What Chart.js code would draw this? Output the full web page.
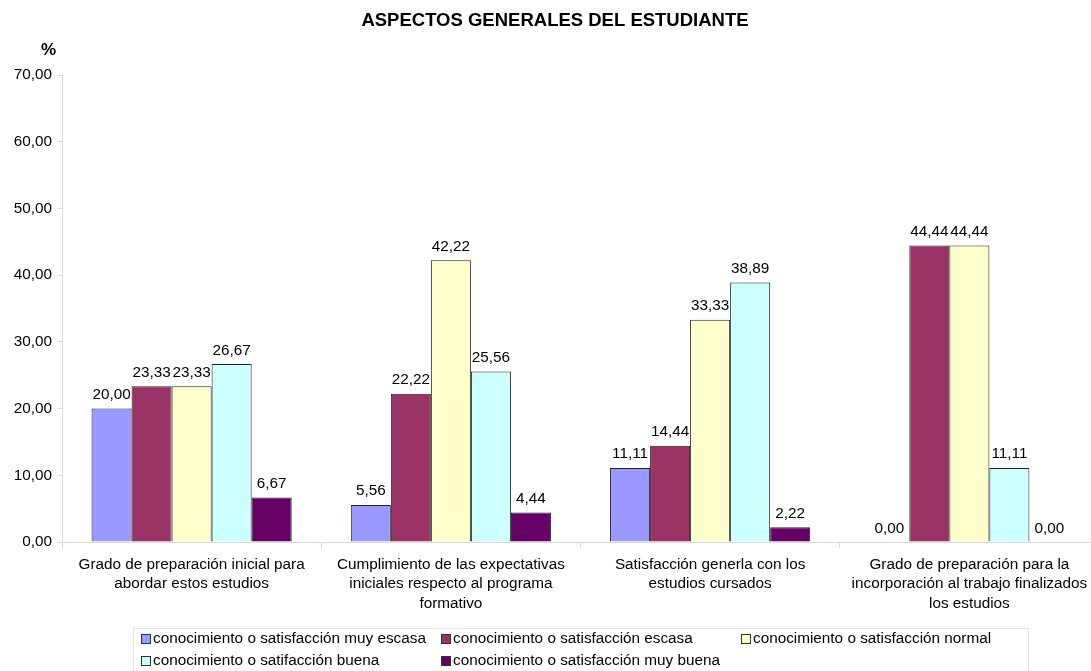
<!DOCTYPE html>
<html>
<head>
<meta charset="utf-8">
<script src="https://cdn.jsdelivr.net/npm/chart.js@4"></script>
<style>
html,body{margin:0;padding:0;background:#fff;overflow:hidden;width:1091px;height:671px;}
canvas{display:block;}
</style>
</head>
<body>
<canvas id="c" width="1099" height="671"></canvas>
<script>
const chartTitle = "ASPECTOS GENERALES DEL ESTUDIANTE";
const yUnit = "%";
const categories = [
  ["Grado de preparación inicial para", "abordar estos estudios"],
  ["Cumplimiento de las expectativas", "iniciales respecto al programa", "formativo"],
  ["Satisfacción generla con los", "estudios cursados"],
  ["Grado de preparación para la", "incorporación al trabajo finalizados", "los estudios"]
];
const seriesNames = [
  "conocimiento o satisfacción muy escasa",
  "conocimiento o satisfacción escasa",
  "conocimiento o satisfacción normal",
  "conocimiento o satifacción buena",
  "conocimiento o satisfacción muy buena"
];
const muyEscasa = [20.00, 5.56, 11.11, 0.00];
const escasa    = [23.33, 22.22, 14.44, 44.44];
const normal    = [23.33, 42.22, 33.33, 44.44];
const buena     = [26.67, 25.56, 38.89, 11.11];
const muyBuena  = [6.67, 4.44, 2.22, 0.00];
const seriesColors = ["#9999FF", "#993366", "#FFFFCC", "#CCFFFF", "#660066"];
const yTicks = [0, 10, 20, 30, 40, 50, 60, 70];

const FONT = "'Liberation Sans', Arial, Helvetica, sans-serif";
const fmt = v => Number(v).toFixed(2).replace('.', ',');

const seriesValues = [muyEscasa, escasa, normal, buena, muyBuena];

const extras = {
  id: 'extras',
  afterDatasetsDraw(chart) {
    const ctx = chart.ctx;
    ctx.save();
    ctx.font = "15.3px " + FONT;
    ctx.fillStyle = "#000";
    ctx.textAlign = "center";
    ctx.textBaseline = "bottom";
    chart.data.datasets.forEach((ds, i) => {
      const meta = chart.getDatasetMeta(i);
      meta.data.forEach((el, j) => {
        ctx.fillText(fmt(ds.data[j]), el.x, el.y - 6);
      });
    });
    ctx.restore();
  },
  afterDraw(chart) {
    const ctx = chart.ctx;
    const ca = chart.chartArea;
    ctx.save();
    // title
    ctx.font = "bold 18.5px " + FONT;
    ctx.fillStyle = "#000";
    ctx.textAlign = "center";
    ctx.textBaseline = "middle";
    ctx.fillText(chartTitle, 555, 21);
    // unit
    ctx.font = "bold 17px " + FONT;
    ctx.textAlign = "right";
    ctx.fillText(yUnit, ca.left - 6, ca.top - 25);
    // legend
    const lx = 133, ly = 628, lw = 895, lh = 50;
    ctx.strokeStyle = "#e4e4e4";
    ctx.lineWidth = 1;
    ctx.strokeRect(lx + 0.5, ly + 0.5, lw, lh);
    const cols = [141, 441, 741];
    const rows = [639, 661];
    ctx.font = "15.3px " + FONT;
    ctx.textAlign = "left";
    ctx.textBaseline = "middle";
    chart.data.datasets.forEach((ds, i) => {
      const x = cols[i % 3], y = rows[Math.floor(i / 3)];
      ctx.fillStyle = ds.backgroundColor;
      ctx.fillRect(x, y - 5, 10, 10);
      ctx.strokeStyle = "#333";
      ctx.strokeRect(x + 0.5, y - 4.5, 9, 9);
      ctx.fillStyle = "#000";
      ctx.fillText(ds.label, x + 12, y);
    });
    ctx.restore();
  }
};

new Chart(document.getElementById('c'), {
  type: 'bar',
  data: {
    labels: categories,
    datasets: seriesNames.map((n, i) => ({
      label: n,
      data: seriesValues[i],
      backgroundColor: seriesColors[i],
      borderColor: "#222",
      borderWidth: 1,
      barPercentage: 1.0,
      categoryPercentage: 0.772
    }))
  },
  options: {
    responsive: false,
    animation: false,
    layout: { padding: { top: 75, left: 0, right: 0, bottom: 0 } },
    plugins: {
      legend: { display: false },
      title: { display: false },
      tooltip: { enabled: false }
    },
    scales: {
      x: {
        grid: { display: true, drawOnChartArea: false, drawTicks: true, tickLength: 6, color: "#d8d8d8", offset: true },
        border: { display: true, color: "#d8d8d8" },
        ticks: { color: "#000", font: { family: FONT, size: 15.3, lineHeight: 1.27 }, padding: 7, maxRotation: 0, autoSkip: false },
        afterFit(s) { s.height = 129; }
      },
      y: {
        min: 0, max: 70,
        afterBuildTicks(s) { s.ticks = yTicks.map(v => ({ value: v })); },
        grid: { display: true, drawOnChartArea: false, drawTicks: true, tickLength: 5, color: "#d8d8d8" },
        border: { display: true, color: "#d8d8d8" },
        ticks: { color: "#000", font: { family: FONT, size: 15.3 }, padding: 5, callback: v => fmt(v) },
        afterFit(s) { s.width = 62; }
      }
    }
  },
  plugins: [extras]
});
</script>
</body>
</html>
